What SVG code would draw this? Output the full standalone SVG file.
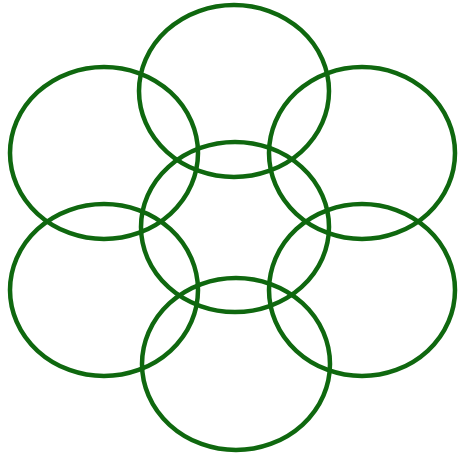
<svg xmlns="http://www.w3.org/2000/svg" width="458" height="456" viewBox="0 0 458 456">
<style>.c{fill:none;stroke:#0f680f;stroke-width:4.5}</style>
<rect width="458" height="456" fill="#fff"/>
<g id="top"><ellipse class="c" cx="234" cy="91" rx="95" ry="86"/></g>
<g id="upper-left"><ellipse class="c" cx="104" cy="153" rx="94" ry="86"/></g>
<g id="upper-right"><ellipse class="c" cx="362" cy="153" rx="93" ry="86"/></g>
<g id="center"><ellipse class="c" cx="235" cy="227" rx="94" ry="85"/></g>
<g id="lower-left"><ellipse class="c" cx="104" cy="290" rx="94" ry="86"/></g>
<g id="lower-right"><ellipse class="c" cx="362" cy="290" rx="93" ry="86"/></g>
<g id="bottom"><ellipse class="c" cx="236" cy="364" rx="94" ry="86"/></g>
<g id="connectors"></g>
</svg>
